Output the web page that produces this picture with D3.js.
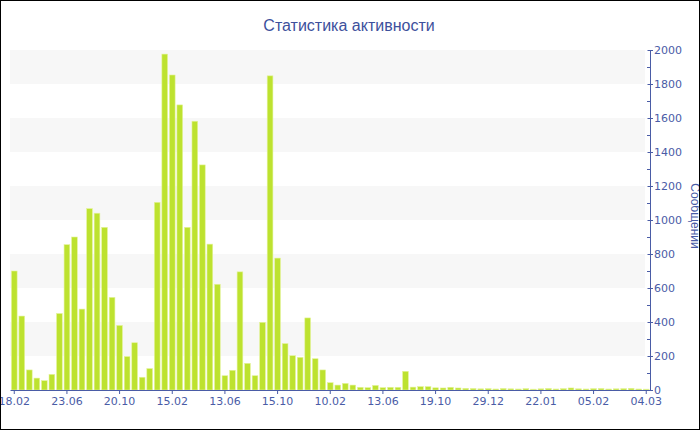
<!DOCTYPE html>
<html>
<head>
<meta charset="utf-8">
<script src="https://cdn.jsdelivr.net/npm/d3@7/dist/d3.min.js"></script>
<style>
  html, body { margin: 0; padding: 0; background: #fff; }
  svg { display: block; }
</style>
</head>
<body>
<svg id="chart" width="700" height="430"></svg>
<script>
// ---- data ----
const chartTitle = "Статистика активности";
const yAxisTitle = "Сообщений";
const messages = [
  700, 435, 118, 70, 55, 92, 450, 855, 900, 476,
  1067, 1040, 957, 545, 380, 197, 278, 75, 126, 1104,
  1976, 1853, 1677, 957, 1581, 1324, 858, 622, 84, 116,
  695, 157, 84, 398, 1848, 776, 273,
  202, 192, 424, 184, 118, 43, 29, 39, 29, 16,
  14, 27, 14, 16, 16, 110, 17, 20, 20, 13,
  12, 16, 12, 10,
  9, 7, 8, 6, 9, 7, 6, 8, 5, 7, 9, 6,
  8, 12, 7, 6, 8, 9, 6, 7, 8, 10, 6, 5
];
const tickEvery = 7;
const tickLabels = ["18.02", "23.06", "20.10", "15.02", "13.06", "15.10", "10.02",
                    "13.06", "19.10", "29.12", "22.01", "05.02", "04.03"];
const yTicks = [0, 200, 400, 600, 800, 1000, 1200, 1400, 1600, 1800, 2000];

// ---- layout ----
const W = 700, H = 430;
const pLeft = 10.5, pRight = 650, pTop = 50, pBottom = 390;
const blue = "#4a5ca6";
const tickFont = "'DejaVu Sans', Verdana, sans-serif";
const titleFont = "'Liberation Sans', Arial, sans-serif";

const svg = d3.select("#chart");
const categories = d3.range(messages.length);

const x = d3.scaleBand().domain(categories).range([pLeft, pRight])
  .paddingInner(0.24).paddingOuter(0.12);
const y = d3.scaleLinear().domain([0, 2000]).range([pBottom, pTop]);

// alternating bands
const bands = yTicks.slice(0, -1).filter((d, i) => i % 2 === 1);
svg.append("g").selectAll("rect").data(bands).join("rect")
  .attr("x", 10).attr("width", 635)
  .attr("y", d => y(d + 200)).attr("height", d => y(d) - y(d + 200))
  .attr("fill", "#f7f7f7");

// bars
svg.append("g").selectAll("rect").data(messages).join("rect")
  .attr("x", (d, i) => x(i))
  .attr("width", x.bandwidth())
  .attr("y", d => y(d))
  .attr("height", d => y(0) - y(d))
  .attr("fill", "#bde22f")
  .attr("stroke", "#e4f39c")
  .attr("stroke-width", 0.6);

// x axis
const xTickVals = categories.filter(i => i % tickEvery === 0);
const xAxis = d3.axisBottom(x)
  .tickValues(xTickVals)
  .tickFormat(i => tickLabels[i / tickEvery])
  .tickSizeInner(4).tickSizeOuter(0).tickPadding(3);
const gx = svg.append("g").attr("transform", `translate(0,${pBottom})`).call(xAxis);
gx.select(".domain").attr("stroke", blue).attr("d", `M${pLeft},0.5H${pRight}`);
gx.selectAll(".tick line").attr("stroke", blue);
gx.selectAll(".tick text").attr("fill", blue)
  .style("font-family", tickFont).style("font-size", "11px");

// y axis (right)
const yAxis = d3.axisRight(y).tickValues(yTicks).tickFormat(d3.format("d"))
  .tickSizeInner(3).tickSizeOuter(0).tickPadding(1);
const gy = svg.append("g").attr("transform", `translate(${pRight},0)`).call(yAxis);
gy.select(".domain").attr("stroke", blue);
gy.selectAll(".tick line").attr("stroke", blue).attr("x1", -2.5);
gy.selectAll(".tick text").attr("fill", blue)
  .style("font-family", tickFont).style("font-size", "11px");
// minor ticks
const minor = d3.range(100, 2000, 200);
gy.append("g").selectAll("line").data(minor).join("line")
  .attr("x1", -3).attr("x2", 0)
  .attr("y1", d => Math.round(y(d)) + 0.5).attr("y2", d => Math.round(y(d)) + 0.5)
  .attr("stroke", blue);

// titles
svg.append("text")
  .attr("x", 349).attr("y", 31)
  .attr("text-anchor", "middle")
  .style("font-family", titleFont).style("font-size", "16px")
  .attr("fill", "#3d509c")
  .text(chartTitle);

svg.append("text")
  .attr("transform", `translate(691,${(pTop + pBottom) / 2 - 4}) rotate(90)`)
  .attr("text-anchor", "middle")
  .style("font-family", titleFont).style("font-size", "12px")
  .attr("fill", blue)
  .text(yAxisTitle);

// outer frame
svg.append("rect").attr("x", 0).attr("y", 0).attr("width", W).attr("height", H)
  .attr("fill", "none").attr("stroke", "#000").attr("stroke-width", 2);
</script>
</body>
</html>
